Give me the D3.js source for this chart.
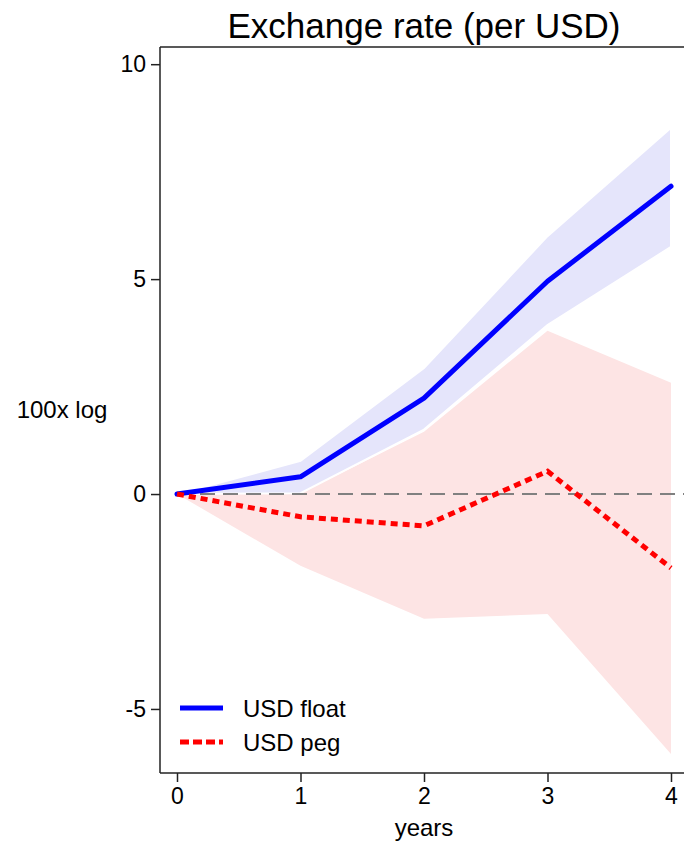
<!DOCTYPE html>
<html><head><meta charset="utf-8">
<script src="https://cdn.jsdelivr.net/npm/d3@7"></script>
<style>body{margin:0;background:#fff}svg{display:block;font-family:"Liberation Sans",Arial,Helvetica,sans-serif}</style>
</head><body><svg id="c" width="684" height="844"></svg>
<script>
const years = [0, 1, 2, 3, 4];
const floatMean = [0, 0.40, 2.23, 4.95, 7.16];
const floatLow  = [0, 0.02, 1.50, 3.93, 5.75];
const floatHigh = [0, 0.77, 2.93, 6.00, 8.52];
const pegMean = [0, -0.53, -0.74, 0.53, -1.72];
const pegLow  = [0, -1.67, -2.90, -2.79, -6.05];
const pegHigh = [0, 0.02, 1.45, 3.80, 2.59];
const xTicks = [0, 1, 2, 3, 4];
const yTicks = [-5, 0, 5, 10];
const legendLabels = ["USD float", "USD peg"];

const svg = d3.select("#c");
const x = d3.scaleLinear().domain([0, 4]).range([177, 671]);
const y = d3.scaleLinear().domain([-6.49, 10.4]).range([773, 47]);

const area = (lo, hi) => d3.area().x((d, i) => x(years[i])).y0((d, i) => y(lo[i])).y1((d, i) => y(hi[i]))(years);
const line = v => d3.line().x((d, i) => x(years[i])).y((d, i) => y(v[i]))(years);

svg.append("path").attr("d", area(pegLow, pegHigh)).attr("fill", "#fde4e4");
svg.append("path").attr("d", area(floatLow, floatHigh)).attr("fill", "#e5e5fb").attr("stroke", "#fff").attr("stroke-width", 2);

svg.append("line").attr("x1", x(0)).attr("x2", 684).attr("y1", y(0)).attr("y2", y(0))
  .attr("stroke", "#808080").attr("stroke-width", 2).attr("stroke-dasharray", "15,8");

svg.append("path").attr("d", line(floatMean)).attr("fill", "none").attr("stroke", "#0000ff").attr("stroke-width", 5).attr("stroke-linejoin", "round").attr("stroke-linecap", "round");
svg.append("path").attr("d", line(pegMean)).attr("fill", "none").attr("stroke", "#ff0000").attr("stroke-width", 5).attr("stroke-dasharray", "7,5");

// axes
const fmt = d => String(d);
const yAxis = d3.axisLeft(y).tickValues(yTicks).tickSize(9).tickPadding(5).tickFormat(fmt);
const gy = svg.append("g").attr("transform", "translate(160,0)").call(yAxis);
gy.select(".domain").attr("d", "M0,47V773");
const xAxis = d3.axisBottom(x).tickValues(xTicks).tickSize(9).tickPadding(6).tickFormat(fmt);
const gx = svg.append("g").attr("transform", "translate(0,773)").call(xAxis);
gx.select(".domain").attr("d", "M160,0H684");
[gx, gy].forEach(g => {
  g.attr("font-size", 23).attr("font-family", "Liberation Sans, Arial, sans-serif");
  g.selectAll(".domain").attr("stroke", "#222").attr("stroke-width", 1.5);
  g.selectAll(".tick line").attr("stroke", "#222").attr("stroke-width", 1.5);
  g.selectAll(".tick text").attr("fill", "#000");
});
svg.append("line").attr("x1", 160).attr("x2", 684).attr("y1", 47).attr("y2", 47).attr("stroke", "#222").attr("stroke-width", 1.5);

svg.append("text").attr("x", 424).attr("y", 38).attr("text-anchor", "middle").attr("font-size", 35).text("Exchange rate (per USD)");
svg.append("text").attr("x", 62).attr("y", 418).attr("text-anchor", "middle").attr("font-size", 24).text("100x log");
svg.append("text").attr("x", 424).attr("y", 836).attr("text-anchor", "middle").attr("font-size", 24).text("years");

// legend
const leg = svg.append("g");
const styles = [{c: "#0000ff", d: null}, {c: "#ff0000", d: "9,4"}];
legendLabels.forEach((lab, i) => {
  const yy = 708 + i * 34;
  leg.append("line").attr("x1", 180).attr("x2", 223).attr("y1", yy).attr("y2", yy)
    .attr("stroke", styles[i].c).attr("stroke-width", 5).attr("stroke-dasharray", styles[i].d);
  leg.append("text").attr("x", 243).attr("y", yy + 9).attr("font-size", 24).text(lab);
});
</script></body></html>
